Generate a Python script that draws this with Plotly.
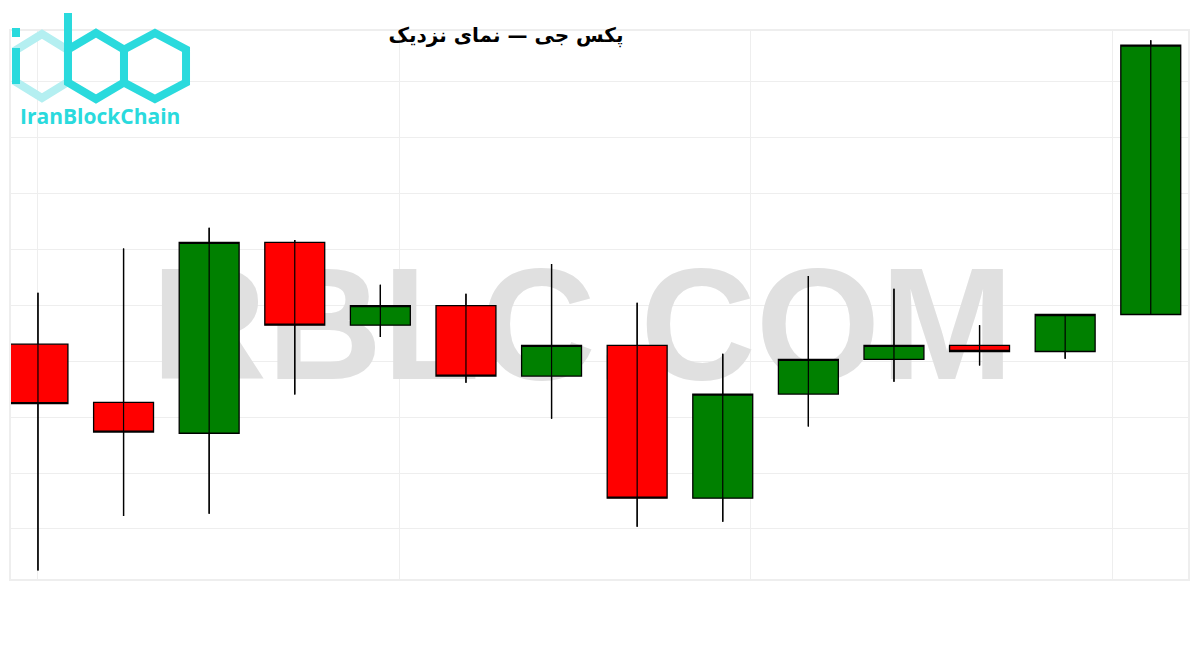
import plotly.graph_objects as go

# ---- data (arbitrary price units) ----
candle_idx = list(range(14))
open_ = [43.0, 32.6, 27.1, 61.2, 46.4, 49.9, 37.3, 42.8, 15.5, 34.1, 40.3, 42.8, 41.7, 48.3]
high_ = [52.2, 60.1, 63.8, 61.6, 53.6, 52.0, 57.3, 50.4, 41.3, 55.2, 52.9, 46.4, 48.3, 97.3]
low_ = [2.6, 12.3, 12.7, 34.0, 44.3, 36.1, 29.7, 10.4, 11.3, 28.3, 36.3, 39.2, 40.4, 48.3]
close_ = [32.4, 27.3, 61.2, 46.4, 49.9, 37.3, 42.8, 15.5, 34.1, 40.3, 42.8, 41.7, 48.3, 96.4]

title_text = "پکس جی — نمای نزدیک"
watermark_text = "RBLC.COM"
logo_text = "IranBlockChain"

OFF = 8  # browser body margin
W, H = 1200 - OFF, 650 - OFF
ML, MR, MT, MB = 11 - OFF, 12, 31 - OFF, 71
PW, PH = W - ML - MR, H - MT - MB

XR = [-0.315, 13.435]
YR = [1.07, 98.93]

fig = go.Figure()

# watermark (below candles, on base subplot)
fig.add_trace(go.Scatter(
    x=[6.36], y=[44.0], mode="text", text=[watermark_text],
    textfont=dict(family="Liberation Sans", size=160, color="#e0e0e0", weight="bold"),
    hoverinfo="skip", showlegend=False, xaxis="x", yaxis="y"))

# candles on the overlaid subplot (drawn above the watermark)
fig.add_trace(go.Candlestick(
    x=candle_idx, open=open_, high=high_, low=low_, close=close_,
    increasing=dict(fillcolor="#008000", line=dict(color="#000000", width=1.3)),
    decreasing=dict(fillcolor="#ff0000", line=dict(color="#000000", width=1.3)),
    whiskerwidth=0, showlegend=False, xaxis="x", yaxis="y2"))

# wick line through the bodies
wx, wy = [], []
for i, h, l in zip(candle_idx, high_, low_):
    wx += [i, i, None]
    wy += [h, l, None]
fig.add_trace(go.Scatter(x=wx, y=wy, mode="lines", line=dict(color="#000000", width=1.2),
                         hoverinfo="skip", showlegend=False, xaxis="x", yaxis="y2"))


def px(xp):
    return (xp - OFF - ML) / PW


def py(yp):
    return (H - MB - (yp - OFF)) / PH


def hexpath(cx, cy, r, hw):
    pts = [(cx, cy - r), (cx + hw, cy - r / 2), (cx + hw, cy + r / 2),
           (cx, cy + r), (cx - hw, cy + r / 2), (cx - hw, cy - r / 2)]
    return "M " + " L ".join(f"{px(a):.4f},{py(b):.4f}" for a, b in pts) + " Z"


cyan = "#2adadd"
light = "#b4eff1"
shapes = [
    dict(type="path", path=hexpath(42, 66, 32, 26), line=dict(color=light, width=8), xref="paper", yref="paper", layer="above"),
    dict(type="path", path=hexpath(96, 66, 33, 28), line=dict(color=cyan, width=8), xref="paper", yref="paper", layer="above"),
    dict(type="path", path=hexpath(155, 66, 33, 31), line=dict(color=cyan, width=8), xref="paper", yref="paper", layer="above"),
    dict(type="line", x0=px(68), x1=px(68), y0=py(13), y1=py(82), line=dict(color=cyan, width=8), xref="paper", yref="paper", layer="above"),
    dict(type="line", x0=px(16), x1=px(16), y0=py(48), y1=py(84), line=dict(color=cyan, width=8), xref="paper", yref="paper", layer="above"),
    dict(type="line", x0=px(16), x1=px(16), y0=py(28), y1=py(37), line=dict(color=cyan, width=8), xref="paper", yref="paper", layer="above"),
]

fig.update_layout(
    width=W, height=H,
    margin=dict(l=ML, r=MR, t=MT, b=MB, pad=0),
    paper_bgcolor="#ffffff", plot_bgcolor="#ffffff",
    showlegend=False,
    boxgap=0.3, boxgroupgap=0,
    title=dict(text=title_text, x=(506 - OFF) / W, xref="container", xanchor="center",
               y=1 - (35 - OFF) / H, yref="container", yanchor="middle",
               font=dict(family="DejaVu Sans", size=20, color="#000000", weight="bold")),
    xaxis=dict(range=XR, tickvals=[0, 4.22, 8.32, 12.55], showticklabels=False, ticks="",
               showgrid=True, gridcolor="#eeeeee", gridwidth=1, zeroline=False,
               showline=True, mirror=True, linecolor="#eeeeee", linewidth=2,
               rangeslider=dict(visible=False), fixedrange=True),
    yaxis=dict(range=YR, tick0=0, dtick=10, showticklabels=False, ticks="",
               showgrid=True, gridcolor="#eeeeee", gridwidth=1, zeroline=False,
               showline=True, mirror=True, linecolor="#eeeeee", linewidth=2),
    yaxis2=dict(range=YR, overlaying="y", visible=False, showgrid=False, zeroline=False),
    shapes=shapes,
    annotations=[dict(text=logo_text, x=px(100), y=py(116), xref="paper", yref="paper",
                      xanchor="center", yanchor="middle", showarrow=False,
                      font=dict(family="Open Sans", size=21, color=cyan, weight="bold"))],
)

fig.write_html("out.html")
